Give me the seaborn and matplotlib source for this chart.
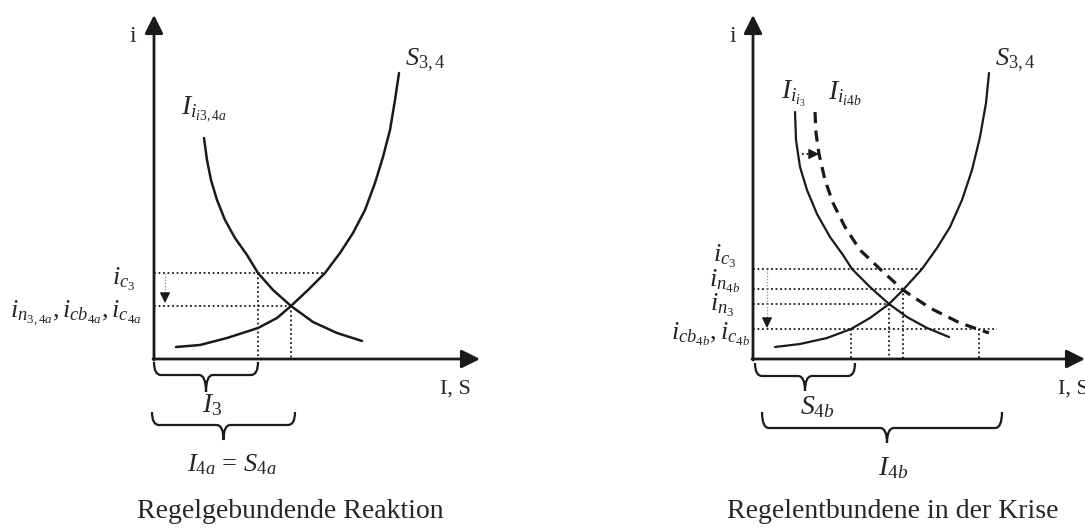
import numpy as np
import pandas as pd
import seaborn as sns
import matplotlib.pyplot as plt
from matplotlib.path import Path
from matplotlib.patches import PathPatch

# Kurvenpunkte (Ursprung = Achsenkreuz, Einheit ~ Pixel)
# linkes Diagramm: Regelgebundende Reaktion
s_left_x = [22, 46, 73, 104, 123, 137, 154, 171, 186, 199, 211, 221, 229, 236, 241, 245]
s_left_y = [12, 14, 21, 31, 41, 53, 69, 86, 106, 126, 149, 176, 202, 229, 259, 286]
i_left_x = [50, 53, 57, 63, 71, 81, 93, 104, 119, 137, 159, 183, 208]
i_left_y = [221, 199, 179, 159, 139, 121, 104, 86, 69, 53, 37, 26, 18]

# rechtes Diagramm: Regelentbundene in der Krise
s_right_x = [22, 47, 74, 98, 117, 136, 150, 169, 184, 197, 209, 219, 227, 233, 236]
s_right_y = [12, 15, 21, 30, 41, 55, 69, 90, 111, 132, 159, 189, 222, 256, 286]
i3_right_x = [42, 43, 47, 54, 64, 77, 90, 99, 117, 136, 154, 174, 196]
i3_right_y = [247, 219, 192, 169, 145, 122, 104, 90, 72, 55, 42, 31, 22]
i4b_right_x = [62, 63, 66, 72, 80, 92, 107, 127, 150, 177, 207, 236]
i4b_right_y = [247, 226, 205, 179, 156, 132, 109, 90, 69, 51, 36, 26]

# Zinsniveaus (Hilfslinien) und Mengen
left_levels = [86, 53]          # i_c3, i_n/cb/c 4a
left_level_ends = [171, 137]
left_qty = [104, 137]           # I_3, I_4a = S_4a
right_levels = [90, 70, 55, 30]  # i_c3, i_n4b, i_n3, i_cb4b/i_c4b
right_level_ends = [169, 150, 136, 244]
right_qty = [98, 136, 150, 226]
right_qty_tops = [30, 55, 70, 30]

titles = ["Regelgebundende Reaktion", "Regelentbundene in der Krise"]

sns.set_theme(style="white")
plt.rcParams['font.family'] = ['Liberation Serif', 'DejaVu Serif']
plt.rcParams['mathtext.fontset'] = 'custom'
plt.rcParams['mathtext.rm'] = 'Liberation Serif'
plt.rcParams['mathtext.it'] = 'Liberation Serif:italic'
plt.rcParams['mathtext.bf'] = 'Liberation Serif:bold'

fig = plt.figure(figsize=(10.85, 5.32), dpi=100)
axL = fig.add_axes([0, 0, 540 / 1085, 1])
axR = fig.add_axes([540 / 1085, 0, 545 / 1085, 1])
axL.set_xlim(-154, 386)
axR.set_xlim(-213, 332)
for ax in (axL, axR):
    ax.set_ylim(-173, 359)
    ax.set_axis_off()

dot = (0, (1, 1.5))


def axes_cross(ax, xmax):
    ax.annotate("", xy=(xmax, 0), xytext=(-1, 0),
                arrowprops=dict(arrowstyle='-|>', lw=2, color='k', mutation_scale=28,
                                shrinkA=0, shrinkB=0))
    ax.annotate("", xy=(0, 344), xytext=(0, -1),
                arrowprops=dict(arrowstyle='-|>', lw=2, color='k', mutation_scale=28,
                                shrinkA=0, shrinkB=0))


def brace(ax, x0, x1, ytop, h1, h2, xm=None):
    if xm is None:
        xm = (x0 + x1) / 2
    yh = ytop - h1
    r = 7
    verts = [(x0, ytop), (x0, yh), (x0 + r, yh),
             (xm - r, yh),
             (xm, yh), (xm, yh - h2),
             (xm, yh), (xm + r, yh),
             (x1 - r, yh),
             (x1, yh), (x1, ytop)]
    codes = [Path.MOVETO, Path.CURVE3, Path.CURVE3,
             Path.LINETO,
             Path.CURVE3, Path.CURVE3,
             Path.CURVE3, Path.CURVE3,
             Path.LINETO,
             Path.CURVE3, Path.CURVE3]
    ax.add_patch(PathPatch(Path(verts, codes), fill=False, lw=1.6, color='k',
                           clip_on=False))


def grey_arrow(ax, x, y0, y1):
    ax.plot([x, x], [y0, y1 + 6], color='0.55', lw=0.9, linestyle=dot)
    ax.annotate("", xy=(x, y1), xytext=(x, y1 + 10),
                arrowprops=dict(arrowstyle='-|>', color='k', lw=0.8,
                                mutation_scale=16, shrinkA=0, shrinkB=0))


# ---------- links ----------
ax = axL
axes_cross(ax, 326)
sns.lineplot(x=s_left_x, y=s_left_y, sort=False, estimator=None, ax=ax, color='k', lw=1.8)
sns.lineplot(x=i_left_x, y=i_left_y, sort=False, estimator=None, ax=ax, color='k', lw=1.8)
for lvl, end in zip(left_levels, left_level_ends):
    ax.plot([0, end], [lvl, lvl], color='k', lw=1.3, linestyle=dot)
for q, lvl in zip(left_qty, left_levels):
    ax.plot([q, q], [lvl, 0], color='k', lw=1.3, linestyle=dot)
grey_arrow(ax, 11, left_levels[0], left_levels[1] + 3)

ax.text(-21, 322, "i", fontsize=17, ha='center', va='center')
ax.text(251, 299, r"$S_{\mathrm{3,4}}$", fontsize=19, ha='left', va='center')
ax.text(27, 250, r"$I_{i_{i\mathrm{3,4}a}}$", fontsize=20, ha='left', va='center')
ax.text(-19, 80, r"$i_{c_{\mathrm{3}}}$", fontsize=19, ha='right', va='center')
ax.text(-12, 46, r"$i_{n_{\mathrm{3,4}a}},i_{cb_{\mathrm{4}a}},i_{c_{\mathrm{4}a}}$",
        fontsize=19, ha='right', va='center')
ax.text(286, -30, "I, S", fontsize=16, ha='left', va='center')

brace(ax, 0, left_qty[0], -3, 13, 17)
ax.text(left_qty[0] / 2 + 6, -46, r"$I_{\mathrm{3}}$", fontsize=20, ha='center', va='center')
brace(ax, -2, left_qty[1] + 4, -53, 13, 15)
ax.text(78, -106, r"$I_{\mathrm{4}a}\,=\,S_{\mathrm{4}a}$", fontsize=19, ha='center', va='center')
ax.text(136, -153, titles[0], fontsize=20, ha='center', va='center')

# ---------- rechts ----------
ax = axR
axes_cross(ax, 332)
sns.lineplot(x=s_right_x, y=s_right_y, sort=False, estimator=None, ax=ax, color='k', lw=1.6)
sns.lineplot(x=i3_right_x, y=i3_right_y, sort=False, estimator=None, ax=ax, color='k', lw=1.6)
sns.lineplot(x=i4b_right_x, y=i4b_right_y, sort=False, estimator=None, ax=ax, color='k',
             lw=2.3, linestyle=(0, (3.5, 2.3)))
for lvl, end in zip(right_levels, right_level_ends):
    ax.plot([0, end], [lvl, lvl], color='k', lw=1.3, linestyle=dot)
for q, top in zip(right_qty, right_qty_tops):
    ax.plot([q, q], [top, 0], color='k', lw=1.3, linestyle=dot)
grey_arrow(ax, 14, right_levels[0], right_levels[3] + 1)
ax.plot([49, 60], [205, 205], color='k', lw=1.3, linestyle=dot)
ax.annotate("", xy=(66, 205), xytext=(56, 205),
            arrowprops=dict(arrowstyle='-|>', color='k', lw=0.8, mutation_scale=16,
                            shrinkA=0, shrinkB=0))

ax.text(-20, 322, "i", fontsize=17, ha='center', va='center')
ax.text(242, 299, r"$S_{\mathrm{3,4}}$", fontsize=19, ha='left', va='center')
ax.text(28, 265, r"$I_{i_{i_{\mathrm{3}}}}$", fontsize=20, ha='left', va='center')
ax.text(75, 265, r"$I_{i_{i\mathrm{4}b}}$", fontsize=20, ha='left', va='center')
ax.text(-17, 103, r"$i_{c_{\mathrm{3}}}$", fontsize=19, ha='right', va='center')
ax.text(-13, 78, r"$i_{n_{\mathrm{4}b}}$", fontsize=19, ha='right', va='center')
ax.text(-19, 54, r"$i_{n_{\mathrm{3}}}$", fontsize=19, ha='right', va='center')
ax.text(-3, 25, r"$i_{cb_{\mathrm{4}b}},i_{c_{\mathrm{4}b}}$", fontsize=19, ha='right', va='center')
ax.text(305, -30, "I, S", fontsize=16, ha='left', va='center')

brace(ax, 2, right_qty[0] + 4, -4, 13, 15)
ax.text(64, -48, r"$S_{\mathrm{4}b}$", fontsize=20, ha='center', va='center')
brace(ax, 9, 249, -53, 16, 15, xm=134)
ax.text(140, -109, r"$I_{\mathrm{4}b}$", fontsize=20, ha='center', va='center')
ax.text(140, -153, titles[1], fontsize=20, ha='center', va='center')

fig.savefig("out.png", dpi=100, facecolor='white')
